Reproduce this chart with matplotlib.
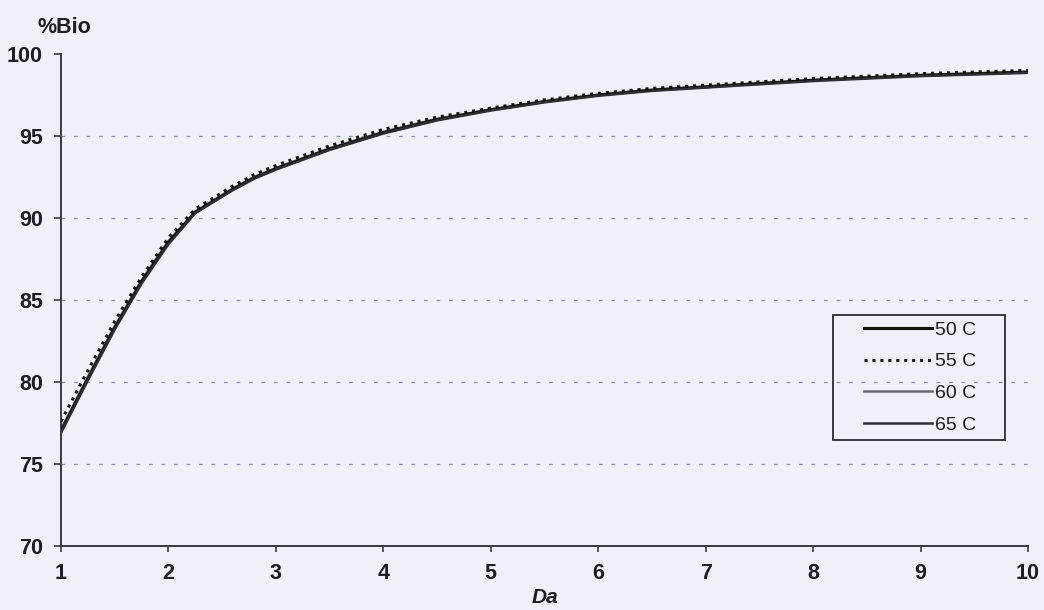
import numpy as np
import matplotlib
matplotlib.use('Agg')
from matplotlib import pyplot as plt
from matplotlib.patches import Rectangle

# Da values and %Bio
da = [1.0, 1.25, 1.5, 1.75, 2.0, 2.25, 2.4, 2.6, 2.8, 3.0, 3.5, 4.0, 4.5, 5.0,
      5.5, 6.0, 6.5, 7.0, 7.5, 8.0, 8.5, 9.0, 9.5, 10.0]
bio_50 = [77.0, 80.2, 83.3, 86.1, 88.5, 90.35, 90.95, 91.75, 92.45, 93.0, 94.2, 95.2, 96.0, 96.6,
          97.1, 97.5, 97.8, 98.0, 98.2, 98.4, 98.55, 98.7, 98.8, 98.9]
bio_55 = [77.6, 80.7, 83.7, 86.4, 88.8, 90.55, 91.15, 91.95, 92.65, 93.2, 94.4, 95.4, 96.15, 96.7,
          97.2, 97.6, 97.9, 98.1, 98.3, 98.5, 98.65, 98.8, 98.9, 99.0]
bio_60 = [77.1, 80.3, 83.4, 86.2, 88.6, 90.4, 91.0, 91.8, 92.5, 93.05, 94.25, 95.25, 96.05, 96.6,
          97.1, 97.5, 97.8, 98.0, 98.2, 98.4, 98.55, 98.7, 98.8, 98.9]
bio_65 = [76.9, 80.1, 83.2, 86.0, 88.4, 90.3, 90.9, 91.7, 92.4, 92.95, 94.15, 95.15, 95.95, 96.55,
          97.05, 97.45, 97.75, 97.95, 98.15, 98.35, 98.5, 98.65, 98.75, 98.85]
labels = ['50 C', '55 C', '60 C', '65 C']
y_ticks = [70, 75, 80, 85, 90, 95, 100]
x_ticks = [1, 2, 3, 4, 5, 6, 7, 8, 9, 10]

bg = '#eff0f8'
ink = '#1e1e24'
plt.rcParams['font.family'] = ['Liberation Sans', 'DejaVu Sans']

fig = plt.figure(figsize=(10.44, 6.10), dpi=100, facecolor=bg)
ax = fig.add_axes([0.0584, 0.1049, 0.9263, 0.8066], facecolor=bg)

# dashed gridlines (no line at 100)
for yv in y_ticks[1:-1]:
    ax.axhline(yv, color='#8d92a8', lw=0.9, dashes=(3, 7), zorder=1)

l1, = ax.plot(da, bio_50, color='#111111', lw=2.2, zorder=3)
l2, = ax.plot(da, bio_55, color='#111111', lw=2.2, linestyle=(0, (1, 1.6)), zorder=4)
l3, = ax.plot(da, bio_60, color='#6a6a72', lw=1.8, zorder=2)
l4, = ax.plot(da, bio_65, color='#2e2e36', lw=1.8, zorder=3)

ax.set_xlim(1, 10)
ax.set_ylim(70, 100)
ax.set_xticks(x_ticks)
ax.set_yticks(y_ticks)
for s in ['top', 'right']:
    ax.spines[s].set_visible(False)
for s in ['left', 'bottom']:
    ax.spines[s].set_color('#3a3a44')
    ax.spines[s].set_linewidth(1.4)
ax.tick_params(axis='both', colors='#3a3a44', width=1.2, labelcolor=ink, labelsize=15.5)
ax.tick_params(axis='x', length=4, pad=8)
ax.tick_params(axis='y', length=5, pad=8)
for t in ax.get_xticklabels() + ax.get_yticklabels():
    t.set_fontweight('bold')

fig.text(0.062, 0.955, '%Bio', ha='center', va='center', fontsize=15.5, fontweight='bold', color=ink)
fig.text(0.522, 0.020, 'Da', ha='center', va='center', fontsize=15, fontweight='bold',
         fontstyle='italic', color=ink)

# legend box drawn separately so it can be sized like the original
ax.add_patch(Rectangle((0.798, 0.215), 0.178, 0.2545, transform=ax.transAxes,
                       fill=False, edgecolor='#2a2a30', lw=1.3, zorder=5))
ax.legend([l1, l2, l3, l4], labels, loc='center', bbox_to_anchor=(0.888, 0.3425),
          frameon=False, fontsize=14, handlelength=3.5, handletextpad=0.15,
          labelspacing=0.72, labelcolor=ink)

fig.savefig('out.png', dpi=100, facecolor=bg)
